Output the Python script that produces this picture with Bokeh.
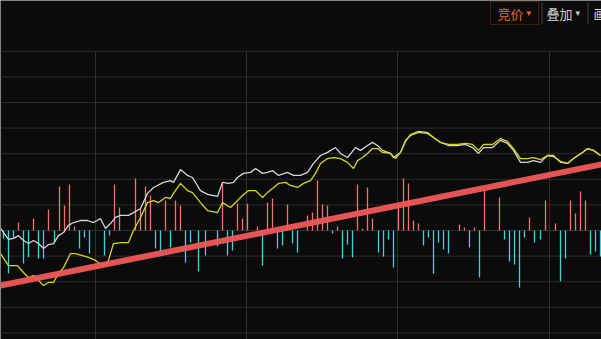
from bokeh.plotting import figure
from bokeh.models import Range1d, Label, BoxAnnotation
from bokeh.embed import file_html
from bokeh.resources import INLINE

# time axis (chart columns) and values in % (grid step = 1)
white_t = [0,8,13,18,23,28,33,38,43,48,53,58,63,68,73,80,87,93,100,105,
           110,115,120,128,133,140,147,153,163,170,173,180,187,192,200,207,217,222,228,233,
           237,243,250,255,262,267,272,278,287,293,300,307,313,320,327,335,340,347,355,360,
           367,372,377,382,390,393,400,405,410,418,427,433,440,448,457,465,472,478,483,492,
           500,507,513,520,527,533,540,547,553,560,567,573,582,587,593,600]
white_v = [0.08,-0.35,-0.31,-0.20,-0.39,-0.51,-0.39,-0.51,-0.70,-0.55,
           -0.51,-0.20,-0.08,0.20,0.31,0.39,0.39,0.31,0.47,0.08,
           0.27,0.51,0.59,0.59,0.70,0.86,1.45,1.68,1.88,1.95,
           1.88,2.38,2.15,2.07,1.56,1.41,1.33,1.88,1.84,1.88,
           2.07,2.23,2.27,2.42,2.23,2.27,2.34,2.15,2.27,2.15,
           2.15,2.27,2.62,2.93,3.05,3.24,3.01,2.85,3.24,3.13,
           3.32,3.44,3.32,3.13,3.01,2.85,3.05,3.52,3.71,3.83,
           3.79,3.63,3.44,3.32,3.32,3.36,3.24,3.01,3.24,3.24,
           3.52,3.40,3.13,2.66,2.66,2.73,2.66,2.93,2.93,2.66,
           2.62,2.81,3.05,3.20,3.13,2.93]

yellow_t = [0,8,17,23,28,33,38,43,48,53,58,63,70,75,82,88,95,102,107,113,
            120,128,133,140,147,153,158,165,170,173,180,187,192,200,207,217,222,230,235,242,
            248,255,262,267,272,278,285,290,297,303,310,315,320,327,333,340,347,353,357,362,
            367,372,377,382,390,395,400,405,410,418,427,433,440,448,457,465,472,
            478,483,492,500,507,513,520,527,533,540,547,553,560,567,573,582,587,593,600]
yellow_v = [-0.90,-1.37,-1.37,-1.64,-1.84,-1.76,-1.95,-2.15,-2.03,-2.03,
            -1.68,-1.45,-0.90,-0.90,-0.98,-1.05,-1.17,-1.37,-1.29,-0.51,
            -0.47,-0.47,0.00,0.51,1.09,1.17,1.09,1.29,1.25,1.45,
            1.84,1.56,1.48,1.09,0.78,0.70,1.09,0.90,1.09,1.37,
            1.56,1.56,1.29,1.48,1.64,1.84,1.88,1.76,1.68,1.84,
            1.95,2.23,2.62,2.81,2.85,2.81,2.66,2.42,2.73,2.85,
            3.01,3.20,3.20,3.05,3.01,2.81,3.05,3.48,3.75,3.87,
            3.83,3.63,3.44,3.36,3.36,3.40,3.36,
            3.13,3.36,3.36,3.59,3.48,3.20,2.81,2.81,2.85,2.77,
            2.93,2.89,2.70,2.62,2.81,3.05,3.20,3.13,2.93]

up_t = [18,33,48,59,64,69,74,114,119,135,140,145,150,165,175,180,222,237,242,247,
        257,267,272,287,307,312,317,322,327,337,357,362,367,372,398,403,408,413,418,459,
        464,474,484,499,529,545,555,570,575,580,585]
up_v = [0.31,0.47,0.82,1.72,0.98,1.80,0.16,1.80,0.90,2.03,0.86,1.72,1.37,1.17,1.17,0.98,
        1.84,1.05,0.47,1.05,0.16,1.09,1.25,1.02,0.59,0.70,1.95,1.02,0.98,0.16,1.80,0.08,
        1.68,0.47,1.05,2.03,1.84,0.39,0.27,0.23,0.12,0.12,1.60,1.29,0.51,1.17,0.27,1.17,
        0.66,1.52,1.17]

down_t = [3,8,13,23,28,38,43,54,79,84,89,104,109,155,160,170,185,190,198,205,
          217,227,232,262,277,282,292,297,332,342,347,352,378,383,388,393,423,428,433,438,
          443,448,469,479,504,509,514,519,524,534,540,560,565,590,595,600]
down_v = [-0.31,-1.68,-0.27,-1.29,-1.05,-1.09,-1.09,-0.47,-0.70,-0.27,-0.90,-0.98,-0.20,
          -0.70,-0.86,-0.66,-1.25,-0.47,-1.60,-0.98,-0.63,-0.98,-0.78,-1.37,-0.70,-0.59,
          -0.51,-0.86,-0.12,-1.09,-0.55,-1.05,-0.86,-1.02,-0.35,-1.45,-0.59,-0.27,-1.68,
          -0.47,-0.74,-0.90,-0.66,-1.84,-0.35,-1.21,-1.33,-2.23,-0.27,-0.47,-0.35,-1.99,
          -1.09,-0.94,-0.82,-1.02]

trend_t = [0, 601]
trend_v = [-2.15, 2.58]

grid_levels = [7, 6, 5, 4, 3, 2, 1, 0, -1, -2, -3, -4]
vgrid_t = [95, 246, 397, 549]

BG = "#0b0b0b"
p = figure(width=601, height=339, output_backend="svg", toolbar_location=None,
           x_range=Range1d(0, 601), y_range=Range1d(-4.258, 8.984),
           min_border=0, min_border_left=0, min_border_right=0,
           min_border_top=0, min_border_bottom=0)
p.background_fill_color = BG
p.border_fill_color = BG
p.outline_line_color = None
p.axis.visible = False
p.grid.visible = False

# grid
p.segment(x0=[0]*len(grid_levels), x1=[601]*len(grid_levels), y0=grid_levels, y1=grid_levels,
          line_color="#2c2c2c", line_width=1)
p.segment(x0=vgrid_t, x1=vgrid_t, y0=[-4.3]*len(vgrid_t), y1=[7]*len(vgrid_t),
          line_color="#303030", line_width=1)

# volume-like bars
p.segment(x0=up_t, x1=up_t, y0=[0]*len(up_t), y1=up_v, line_color="#f07272", line_width=1.3)
p.segment(x0=down_t, x1=down_t, y0=[0]*len(down_t), y1=down_v, line_color="#3fd3dc", line_width=1.3)

# lines
p.line(white_t, white_v, line_color="#d6d6d6", line_width=1.3)
p.line(yellow_t, yellow_v, line_color="#d8d424", line_width=1.3)

# trend line
p.line(trend_t, trend_v, line_color="#f05858", line_width=6, line_alpha=0.95)

# top toolbar buttons
H = 339
p.add_layout(BoxAnnotation(left=490, right=538, top=H-1, bottom=H-24,
                           left_units="screen", right_units="screen",
                           top_units="screen", bottom_units="screen",
                           fill_alpha=0, line_color="#b8502c", line_width=1))
font = "Noto Sans CJK SC"
p.add_layout(Label(x=497, y=H-13, x_units="screen", y_units="screen", text="竞价",
                   text_font=font, text_font_size="13px", text_color="#e8682e",
                   text_baseline="middle"))
p.add_layout(Label(x=526, y=H-12, x_units="screen", y_units="screen", text="▾",
                   text_font="DejaVu Sans", text_font_size="9px", text_color="#e8682e",
                   text_baseline="middle"))
p.add_layout(BoxAnnotation(left=541, right=542, top=H-2, bottom=H-24,
                           left_units="screen", right_units="screen",
                           top_units="screen", bottom_units="screen",
                           fill_color="#444444", fill_alpha=1, line_color=None))
p.add_layout(Label(x=546, y=H-13, x_units="screen", y_units="screen", text="叠加",
                   text_font=font, text_font_size="13px", text_color="#cfcfcf",
                   text_baseline="middle"))
p.add_layout(Label(x=575, y=H-12, x_units="screen", y_units="screen", text="▾",
                   text_font="DejaVu Sans", text_font_size="9px", text_color="#cfcfcf",
                   text_baseline="middle"))
p.add_layout(BoxAnnotation(left=587, right=588, top=H-2, bottom=H-24,
                           left_units="screen", right_units="screen",
                           top_units="screen", bottom_units="screen",
                           fill_color="#444444", fill_alpha=1, line_color=None))
p.add_layout(Label(x=593, y=H-13, x_units="screen", y_units="screen", text="画",
                   text_font=font, text_font_size="13px", text_color="#cfcfcf",
                   text_baseline="middle"))

open("out.html", "w").write(file_html(p, INLINE))
